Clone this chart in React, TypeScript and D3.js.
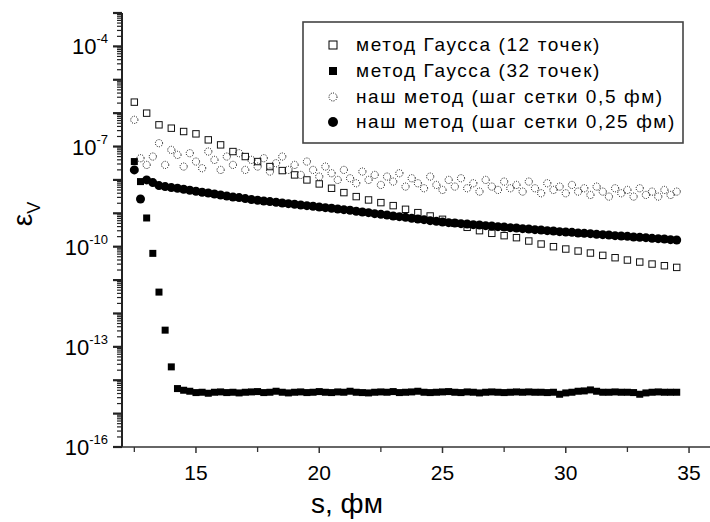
import * as d3 from "d3";

// s grid (fm)
const S_START = 12.5;
const STEP_FINE = 0.25;
const STEP_COARSE = 0.5;

// log10 of eps_V
// Gauss method, 12 points (step 0.5 fm)
const gauss12Log = [
  -5.67, -6.0, -6.35, -6.45, -6.55, -6.62, -6.8, -6.95, -7.15, -7.3,
  -7.45, -7.6, -7.72, -7.85, -8.0, -8.12, -8.25, -8.38, -8.5, -8.6,
  -8.68, -8.77, -8.88, -8.98, -9.08, -9.18, -9.3, -9.42, -9.52, -9.6,
  -9.67, -9.73, -9.83, -9.92, -10.0, -10.07, -10.13, -10.19, -10.26, -10.33,
  -10.4, -10.46, -10.52, -10.57, -10.62,
];

// Gauss method, 32 points (step 0.25 fm)
const gauss32Log = [
  -7.45, -8.05, -9.14, -10.2, -11.36, -12.5, -13.6, -14.25, -14.3, -14.33,
  -14.37, -14.36, -14.39, -14.36, -14.35, -14.37, -14.36, -14.38, -14.36, -14.35,
  -14.34, -14.37, -14.36, -14.33, -14.36, -14.38, -14.36, -14.35, -14.37, -14.36,
  -14.34, -14.36, -14.37, -14.35, -14.36, -14.33, -14.36, -14.37, -14.38, -14.36,
  -14.35, -14.36, -14.34, -14.37, -14.36, -14.35, -14.33, -14.36, -14.37, -14.36,
  -14.35, -14.34, -14.36, -14.37, -14.35, -14.36, -14.38, -14.36, -14.35, -14.36,
  -14.37, -14.36, -14.35, -14.36, -14.35, -14.36, -14.36, -14.37, -14.36, -14.42,
  -14.38, -14.36, -14.33, -14.32, -14.29, -14.33, -14.36, -14.36, -14.35, -14.36,
  -14.36, -14.37, -14.42, -14.38, -14.36, -14.35, -14.36, -14.36, -14.36,
];

// our method, grid step 0.5 fm (step 0.25 fm in s)
const our05Log = [
  -6.2, -7.35, -7.55, -7.3, -6.9, -7.55, -7.1, -7.25, -7.6, -7.2,
  -7.45, -7.65, -7.15, -7.4, -7.7, -7.3, -7.55, -7.2, -7.7, -7.4,
  -7.6, -7.35, -7.75, -7.5, -7.3, -7.7, -7.55, -7.85, -7.45, -7.7,
  -7.9, -7.6, -7.8, -8.0, -7.7, -7.95, -8.1, -7.75, -8.0, -7.85,
  -8.15, -7.9, -8.05, -7.8, -8.2, -7.95, -8.1, -8.25, -7.9, -8.15,
  -8.3, -8.0, -8.2, -7.95, -8.25, -8.1, -8.35, -8.0, -8.2, -8.3,
  -8.05, -8.25, -8.15, -8.35, -8.05, -8.25, -8.4, -8.1, -8.3, -8.2,
  -8.4, -8.15, -8.35, -8.25, -8.45, -8.2, -8.35, -8.5, -8.25, -8.4,
  -8.3, -8.5, -8.25, -8.45, -8.35, -8.5, -8.3, -8.45, -8.35,
];

// our method, grid step 0.25 fm
const our025Log = [
  -7.7, -8.57, -8.0, -8.08, -8.17, -8.2, -8.23, -8.25, -8.28, -8.31,
  -8.34, -8.37, -8.39, -8.42, -8.45, -8.48, -8.51, -8.53, -8.56, -8.59,
  -8.61, -8.63, -8.65, -8.67, -8.69, -8.71, -8.73, -8.75, -8.77, -8.79,
  -8.81, -8.83, -8.85, -8.87, -8.89, -8.91, -8.94, -8.96, -8.98, -9.01,
  -9.03, -9.05, -9.08, -9.1, -9.12, -9.15, -9.17, -9.19, -9.22, -9.24,
  -9.26, -9.28, -9.29, -9.31, -9.32, -9.34, -9.35, -9.37, -9.38, -9.4,
  -9.41, -9.43, -9.44, -9.46, -9.47, -9.49, -9.5, -9.52, -9.53, -9.55,
  -9.56, -9.57, -9.59, -9.6, -9.61, -9.63, -9.64, -9.65, -9.67, -9.68,
  -9.69, -9.71, -9.72, -9.73, -9.75, -9.76, -9.77, -9.79, -9.8,
];

const xMajorTicks = [15, 20, 25, 30, 35];
const xMinorTicks = [12.5, 17.5, 22.5, 27.5, 32.5];
const yDecades = d3.range(-16, -2);
const yLabelExps = [-16, -13, -10, -7, -4];

const legendLabels = [
  "метод Гаусса (12 точек)",
  "метод Гаусса (32 точек)",
  "наш метод (шаг сетки 0,5 фм)",
  "наш метод (шаг сетки 0,25 фм)",
];

const FONT = "'Liberation Sans', Arial, sans-serif";

const toPoints = (logs: number[], step: number) =>
  logs.map((e, i) => ({ s: S_START + i * step, v: Math.pow(10, e) }));

export default function App() {
  const width = 710;
  const height = 522;

  const x = d3.scaleLinear().domain([12, 35.85]).range([122, 710]);
  const y = d3.scaleLog().domain([1e-16, 1e-3]).range([447, 13]);

  const g12 = toPoints(gauss12Log, STEP_COARSE);
  const g32 = toPoints(gauss32Log, STEP_FINE);
  const o05 = toPoints(our05Log, STEP_FINE);
  const o025 = toPoints(our025Log, STEP_FINE);

  const yMinor: number[] = [];
  yDecades.slice(0, -1).forEach((d) => {
    for (let k = 2; k <= 9; k++) yMinor.push(k * Math.pow(10, d));
  });

  const lx = 333;
  const rows = [45, 71, 97, 122];

  return (
    <svg
      width={width}
      height={height}
      style={{ position: "absolute", left: 0, top: 0, background: "#fff" }}
      fontFamily={FONT}
    >
      {/* data */}
      <g>
        {o05.map((d, i) => (
          <circle
            key={"o05" + i}
            cx={x(d.s)}
            cy={y(d.v)}
            r={3.6}
            fill="none"
            stroke="#000"
            strokeWidth={1}
            strokeDasharray="1 1.3"
          />
        ))}
        {g12.map((d, i) => (
          <rect
            key={"g12" + i}
            x={x(d.s) - 3.2}
            y={y(d.v) - 3.2}
            width={6.4}
            height={6.4}
            fill="none"
            stroke="#111"
            strokeWidth={1}
          />
        ))}
        {o025.map((d, i) => (
          <circle key={"o025" + i} cx={x(d.s)} cy={y(d.v)} r={4.5} fill="#000" />
        ))}
        {g32.map((d, i) => (
          <rect
            key={"g32" + i}
            x={x(d.s) - 3.5}
            y={y(d.v) - 3.5}
            width={7}
            height={7}
            fill="#000"
          />
        ))}
      </g>

      {/* y axis */}
      <g stroke="#222">
        <line x1={122} x2={122} y1={y(1e-3)} y2={y(1e-16)} strokeWidth={2} />
        {yDecades.map((d) => (
          <line
            key={"yM" + d}
            x1={113}
            x2={122}
            y1={y(Math.pow(10, d))}
            y2={y(Math.pow(10, d))}
            strokeWidth={2.2}
          />
        ))}
        {yMinor.map((v, i) => (
          <line key={"ym" + i} x1={117} x2={122} y1={y(v)} y2={y(v)} strokeWidth={1.2} />
        ))}
      </g>
      {yLabelExps.map((e) => (
        <text
          key={"yl" + e}
          x={108}
          y={y(Math.pow(10, e)) + 8}
          textAnchor="end"
          fontSize={22}
          fill="#000"
        >
          10
          <tspan fontSize={13} dy={-11}>
            {e}
          </tspan>
        </text>
      ))}

      {/* x axis */}
      <g stroke="#333">
        <line x1={122} x2={710} y1={447} y2={447} strokeWidth={1.6} />
        {xMajorTicks.map((t) => (
          <line key={"xM" + t} x1={x(t)} x2={x(t)} y1={447} y2={453} strokeWidth={1.5} />
        ))}
        {xMinorTicks.map((t) => (
          <line key={"xm" + t} x1={x(t)} x2={x(t)} y1={447} y2={452} strokeWidth={1.3} />
        ))}
      </g>
      {xMajorTicks.map((t) => (
        <text key={"xl" + t} x={x(t)} y={480} textAnchor="middle" fontSize={21} fill="#000">
          {t}
        </text>
      ))}

      {/* axis titles */}
      <text x={347} y={513} textAnchor="middle" fontSize={28} fill="#000">
        s, фм
      </text>
      <text transform="translate(32,214) rotate(-90)" textAnchor="middle" fontSize={28} fill="#000">
        ε
        <tspan fontSize={18} dy={8}>
          V
        </tspan>
      </text>

      {/* legend */}
      <rect x={303} y={22} width={380} height={121} fill="#fff" stroke="#444" strokeWidth={1.6} />
      <rect x={lx - 4} y={rows[0] - 4} width={8} height={8} fill="none" stroke="#000" strokeWidth={1} />
      <rect x={lx - 4} y={rows[1] - 4} width={8} height={8} fill="#000" />
      <circle cx={lx} cy={rows[2]} r={4} fill="none" stroke="#000" strokeWidth={1} strokeDasharray="1 1.3" />
      <circle cx={lx} cy={rows[3]} r={5} fill="#000" />
      {legendLabels.map((l, i) => (
        <text key={l} x={356} y={rows[i] + 6} fontSize={19} letterSpacing={1.6} fill="#000">
          {l}
        </text>
      ))}
    </svg>
  );
}
